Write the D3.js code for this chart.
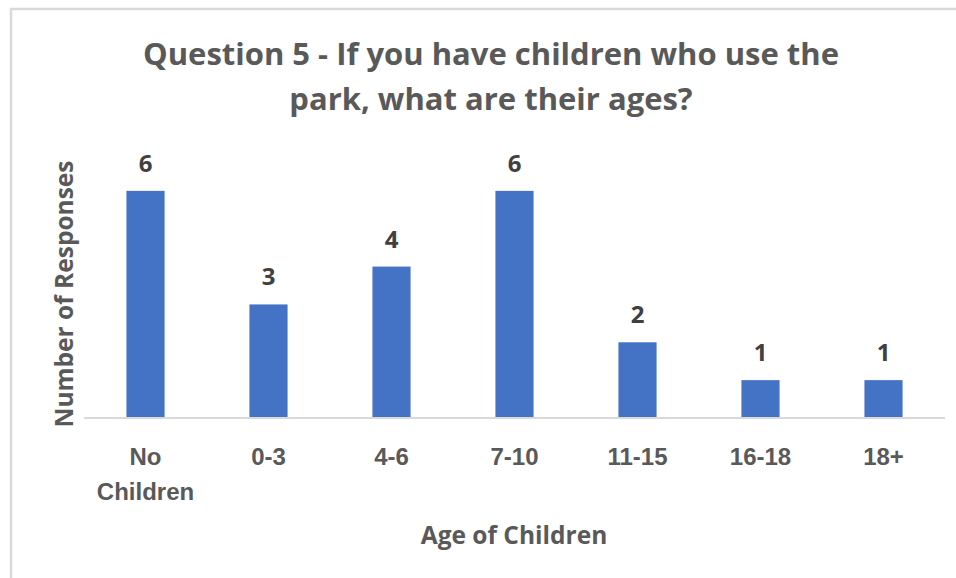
<!DOCTYPE html>
<html>
<head>
<meta charset="utf-8">
<script src="https://cdn.jsdelivr.net/npm/d3@7"></script>
<style>
  body { margin: 0; background: #fff; }
  svg { display: block; font-family: 'Open Sans', Lato, sans-serif; }
</style>
</head>
<body>
<div id="chart"></div>
<script>
const categories = [['No', 'Children'], ['0-3'], ['4-6'], ['7-10'], ['11-15'], ['16-18'], ['18+']]
const responses = [6, 3, 4, 6, 2, 1, 1]
const titleLines = ['Question 5 - If you have children who use the', 'park, what are their ages?']

const width = 956
const height = 578
const marginLeft = 84
const marginRight = 11
const plotTop = 153
const plotBottom = 418

const keys = categories.map(c => c.join(' '))

const x = d3.scaleBand()
  .domain(keys)
  .range([marginLeft, width - marginRight])
  .paddingInner(0.69)
  .paddingOuter(0.345)

const y = d3.scaleLinear()
  .domain([0, 7])
  .range([plotBottom, plotTop])

const svg = d3.select('#chart').append('svg')
  .attr('width', width)
  .attr('height', height)
  .attr('viewBox', [0, 0, width, height])

// chart frame (only top/left visible in the crop)
svg.append('path')
  .attr('fill', 'none')
  .attr('stroke', '#d9d9d9')
  .attr('stroke-width', 2.5)
  .attr('d', `M11,${height} V9 H${width}`)

svg.append('g')
  .selectAll('text')
  .data(titleLines)
  .join('text')
  .attr('x', 491)
  .attr('y', (_, i) => 65 + i * 45)
  .attr('text-anchor', 'middle')
  .attr('font-size', 31)
  .attr('font-weight', 'bold')
  .attr('fill', '#595959')
  .text(d => d)

svg.append('g')
  .selectAll('rect')
  .data(responses)
  .join('rect')
  .attr('x', (_, i) => x(keys[i]))
  .attr('y', d => y(d))
  .attr('width', x.bandwidth())
  .attr('height', d => y(0) - y(d))
  .attr('fill', '#4472c4')

const gx = svg.append('g')
  .attr('transform', `translate(0, ${plotBottom})`)
  .call(d3.axisBottom(x).tickSize(0).tickFormat(''))
  .call(g => g.select('.domain')
    .attr('stroke', '#d9d9d9')
    .attr('stroke-width', 2)
    .attr('d', `M${marginLeft},0H${width - marginRight}`))

gx.selectAll('.tick')
  .append('text')
  .attr('text-anchor', 'middle')
  .attr('font-size', 24)
  .attr('font-weight', 'bold')
  .attr('fill', '#595959')
  .selectAll('tspan')
  .data((_, i) => categories[i])
  .join('tspan')
  .attr('x', 0)
  .attr('y', (_, j) => 47 + j * 35)
  .text(d => d)

svg.append('g')
  .selectAll('text')
  .data(responses)
  .join('text')
  .attr('x', (_, i) => x(keys[i]) + x.bandwidth() / 2)
  .attr('y', d => y(d) - 19)
  .attr('text-anchor', 'middle')
  .attr('font-size', 24)
  .attr('font-weight', 'bold')
  .attr('fill', '#404040')
  .text(d => d)

svg.append('text')
  .attr('x', 514)
  .attr('y', 544)
  .attr('text-anchor', 'middle')
  .attr('font-size', 24.5)
  .attr('font-weight', 'bold')
  .attr('fill', '#595959')
  .text('Age of Children')

svg.append('text')
  .attr('transform', 'translate(73, 294) rotate(-90)')
  .attr('text-anchor', 'middle')
  .attr('font-size', 24.5)
  .attr('font-weight', 'bold')
  .attr('fill', '#595959')
  .text('Number of Responses')
</script>
</body>
</html>
